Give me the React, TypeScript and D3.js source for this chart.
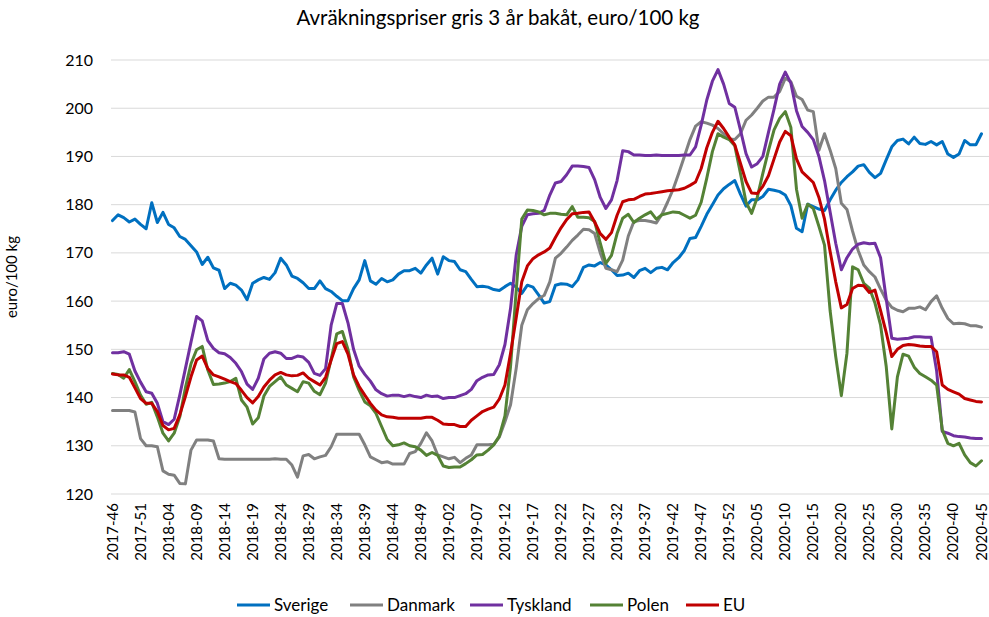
import React from "react";
import * as d3 from "d3";

const title = "Avräkningspriser gris 3 år bakåt, euro/100 kg";
const yAxisTitle = "euro/100 kg";

// Weekly categories 2017-46 ... 2020-45
const weeks: string[] = (() => {
  const out: string[] = [];
  const spans: [number, number, number][] = [
    [2017, 46, 52],
    [2018, 1, 52],
    [2019, 1, 52],
    [2020, 1, 45],
  ];
  spans.forEach(([yr, a, b]) => {
    for (let w = a; w <= b; w++) out.push(`${yr}-${w < 10 ? "0" + w : w}`);
  });
  return out;
})();
const tickLabels = weeks.filter((_, i) => i % 5 === 0);

const yTicks = [120, 130, 140, 150, 160, 170, 180, 190, 200, 210];

const sverige = [
  176.7, 177.9, 177.3, 176.4, 177.0, 175.9, 175.0, 180.4, 176.3, 178.4,
  175.9, 175.2, 173.4, 172.8, 171.5, 170.2, 167.6, 169.1, 166.9, 166.4,
  162.6, 163.7, 163.3, 162.3, 160.3, 163.7, 164.4, 164.9, 164.5, 165.9,
  168.9, 167.5, 165.2, 164.7, 163.8, 162.6, 162.6, 164.2, 162.6, 162.0,
  161.0, 160.1, 160.1, 162.6, 164.4, 168.4, 164.2, 163.5, 164.7, 164.0,
  164.4, 165.6, 166.3, 166.3, 166.8, 165.8, 167.5, 168.9, 165.6, 169.2,
  168.4, 168.2, 166.5, 166.1, 164.5, 163.0, 163.1, 162.9, 162.4, 162.2,
  163.0, 163.7, 162.9, 161.6, 163.3, 162.9, 161.3, 159.6, 159.9, 163.3,
  163.6, 163.5, 163.0, 164.4, 167.0, 167.5, 167.3, 168.0, 167.5, 166.5,
  165.3, 165.4, 165.8, 164.9, 166.3, 166.8, 165.9, 166.8, 167.0, 166.5,
  168.0, 169.0, 170.5, 173.0, 173.2, 175.5, 178.0, 180.0, 182.0, 183.3,
  184.2, 185.0, 182.2, 179.7, 181.0, 181.0, 181.7, 183.2, 183.0, 182.7,
  182.0, 179.8, 175.1, 174.4, 180.1, 179.6, 179.1, 178.8, 181.0, 183.0,
  184.6, 185.8, 186.8, 188.0, 188.3, 186.7, 185.6, 186.5, 189.3, 192.0,
  193.3, 193.6, 192.6, 194.0, 192.7, 192.5, 193.1, 192.4, 193.1, 190.5,
  189.8, 190.5, 193.3, 192.4, 192.4, 194.7,
];

const danmark = [
  137.3, 137.3, 137.3, 137.3, 137.0, 131.5, 130.0, 130.0, 129.8, 124.8,
  124.1, 123.9, 122.2, 122.1, 129.1, 131.2, 131.2, 131.2, 131.0, 127.3,
  127.2, 127.2, 127.2, 127.2, 127.2, 127.2, 127.2, 127.2, 127.2, 127.3,
  127.2, 127.2, 126.0, 123.5, 127.9, 128.2, 127.3, 127.7, 128.0, 129.8,
  132.4, 132.4, 132.4, 132.4, 132.4, 130.2, 127.7, 127.1, 126.5, 126.7,
  126.2, 126.2, 126.2, 128.4, 128.8, 130.5, 132.7, 131.0, 128.1, 127.7,
  127.3, 127.6, 126.5, 127.4, 128.1, 130.2, 130.2, 130.2, 130.3, 131.8,
  135.0, 138.5, 146.0, 155.0, 158.2, 159.5, 160.5, 161.2, 164.0, 168.9,
  169.9, 171.2, 172.6, 173.7, 174.9, 174.8, 174.0, 170.0, 166.8, 166.5,
  166.1, 168.5, 173.5, 176.5, 176.7, 176.7, 176.5, 176.2, 178.0, 180.5,
  183.2, 186.5, 190.0, 193.5, 196.3, 197.2, 196.9, 196.5, 195.8, 194.7,
  193.6, 193.5, 194.7, 197.5, 198.6, 200.0, 201.5, 202.3, 202.3, 203.5,
  206.2, 205.5, 202.5, 201.8, 199.6, 199.3, 191.3, 194.7, 191.3, 187.5,
  180.3, 179.0, 174.5, 170.5, 167.5, 166.1, 165.0, 162.5, 160.2, 158.7,
  158.1, 157.8, 158.5, 158.5, 158.8, 158.2, 159.9, 161.1, 158.5, 156.4,
  155.3, 155.4, 155.3, 154.9, 154.9, 154.6,
];

const tyskland = [
  149.3, 149.3, 149.5, 149.0, 145.5, 143.2, 141.2, 140.9, 138.8, 135.0,
  134.4, 135.5, 140.5, 146.0, 151.5, 156.8, 155.9, 151.8, 150.2, 149.3,
  149.1, 148.3, 147.1, 145.4, 142.8, 141.7, 144.0, 148.0, 149.2, 149.5,
  149.2, 148.1, 148.1, 148.6, 148.4, 147.3, 145.0, 144.6, 146.0, 155.0,
  159.5, 159.5, 155.5, 150.0, 146.5, 144.8, 143.4, 141.6, 140.8, 140.3,
  140.5, 140.5, 140.2, 140.5, 140.2, 140.0, 140.5, 140.2, 140.3, 139.8,
  140.0, 140.0, 140.4, 140.8, 141.7, 143.5, 144.2, 144.7, 144.8, 146.8,
  151.0, 158.5, 169.5, 175.5, 177.9, 178.1, 178.2, 178.8, 182.0, 184.5,
  184.8, 186.2, 188.0, 188.0, 187.9, 187.7, 185.2, 181.5, 179.2, 181.0,
  185.0, 191.2, 191.0, 190.3, 190.3, 190.2, 190.2, 190.3, 190.2, 190.2,
  190.2, 190.2, 190.3, 190.3, 192.0, 196.5, 201.7, 205.6, 208.0, 205.0,
  201.0, 200.2, 195.5, 190.6, 187.8, 188.5, 190.0, 195.0, 199.8, 205.0,
  207.5, 205.2, 199.5, 196.2, 195.0, 193.5, 190.0, 185.0, 178.5, 172.0,
  166.5, 169.0, 170.8, 171.8, 172.1, 171.9, 172.0, 169.0, 160.5, 152.3,
  152.1, 152.2, 152.3, 152.6, 152.6, 152.5, 152.5, 145.5, 133.0, 132.6,
  132.1, 131.9, 131.8, 131.6, 131.5, 131.5,
];

const polen = [
  145.0, 144.8, 144.0, 145.8, 143.3, 140.5, 138.6, 139.0, 136.0, 132.6,
  131.0, 132.6, 136.0, 142.0, 147.0, 149.9, 150.6, 145.7, 142.7, 142.8,
  143.0, 143.3, 144.0, 139.5, 138.0, 134.5, 135.8, 140.3, 142.3, 143.3,
  144.3, 142.6, 141.9, 141.2, 143.3, 143.0, 141.3, 140.6, 143.0, 148.0,
  153.2, 153.7, 150.0, 144.3, 141.5, 139.1, 138.3, 136.7, 134.0, 131.3,
  130.0, 130.2, 130.6, 130.0, 129.8, 129.1, 128.0, 128.6, 128.0, 125.8,
  125.5, 125.6, 125.6, 126.3, 127.1, 128.1, 128.2, 129.1, 130.2, 132.0,
  136.2, 146.5, 162.0, 177.0, 178.9, 178.8, 178.5, 177.9, 178.2, 178.2,
  178.0, 177.9, 179.6, 177.4, 177.4, 177.3, 176.5, 172.0, 167.8, 169.5,
  174.0, 177.2, 178.0, 176.3, 177.2, 177.9, 178.5, 177.0, 177.9, 178.2,
  178.5, 178.4, 177.8, 177.2, 177.8, 180.5, 185.5, 191.0, 194.7, 194.0,
  193.5, 192.2, 186.5, 180.5, 178.2, 181.5, 186.5, 191.2, 195.5, 197.9,
  199.3, 196.0, 183.2, 177.2, 180.1, 179.2, 175.5, 171.6, 158.0, 148.5,
  140.4, 149.2, 167.1, 166.5, 163.7, 162.7, 159.6, 155.0, 146.5, 133.5,
  144.3, 149.0, 148.6, 146.3, 145.0, 144.3, 143.6, 142.6, 133.3, 130.5,
  130.0, 130.5, 128.1, 126.5, 125.8, 126.9,
];

const eu = [
  144.9, 144.7, 144.7, 144.2, 142.0, 139.8, 138.8, 138.8, 137.1, 134.2,
  133.3, 133.6, 136.4, 140.2, 144.3, 147.8, 148.6, 146.0, 144.7, 144.3,
  143.8, 143.3, 142.9, 141.5, 140.0, 138.9, 140.2, 142.2, 143.6, 144.7,
  145.2, 144.7, 144.5, 144.6, 145.1, 144.0, 143.3, 142.6, 144.2, 147.8,
  151.2, 151.6, 149.0, 144.7, 142.3, 140.5, 138.8, 137.4, 136.4, 136.0,
  135.9, 135.7, 135.7, 135.7, 135.7, 135.7, 135.9, 135.9, 135.3, 134.5,
  134.4, 134.4, 134.0, 134.0, 135.3, 136.2, 137.1, 137.6, 138.0, 139.7,
  142.6, 149.2, 156.5, 164.0, 167.3, 168.8, 169.6, 170.2, 171.0, 173.2,
  175.2, 176.9, 178.1, 178.2, 178.4, 178.5, 176.4, 174.0, 172.8, 174.2,
  177.8, 180.6, 181.0, 181.1, 181.7, 182.2, 182.3, 182.5, 182.7, 182.9,
  183.0, 183.1, 183.4, 184.0, 184.7, 187.5, 191.8, 195.0, 197.3, 195.8,
  194.0, 192.4, 188.6, 184.8, 182.4, 182.3, 183.8, 186.0, 189.5, 193.0,
  195.2, 194.3, 189.5, 186.8, 185.7, 184.6, 181.5, 177.0, 170.3, 164.0,
  158.6, 159.3, 162.6, 163.3, 163.2, 161.8, 162.3, 158.0, 153.5, 148.5,
  150.0, 150.8, 151.0, 150.9, 150.7, 150.6, 150.6, 149.5, 142.6, 141.7,
  141.2, 140.7, 139.8, 139.5, 139.2, 139.1,
];

const seriesNames = ["Sverige", "Danmark", "Tyskland", "Polen", "EU"];
const seriesValues = [sverige, danmark, tyskland, polen, eu];
const seriesColors = ["#0070C0", "#808080", "#7030A0", "#548235", "#C00000"];

const FONT = "Lato, 'Open Sans', 'DejaVu Sans', sans-serif";

export default function App() {
  const W = 989;
  const H = 617;
  const x = d3.scalePoint<string>().domain(weeks).range([112.5, 981.5]);
  const y = d3.scaleLinear().domain([120, 210]).range([494, 60]);
  const gridX0 = 111;
  const gridX1 = 989;

  const lineGen = (vals: number[]) =>
    d3
      .line<number>()
      .x((_, i) => x(weeks[i]) as number)
      .y((d) => y(d))(vals) || "";

  const legendX = [237, 350, 470, 590, 686];
  const legendY = 605;

  return (
    <svg
      width={W}
      height={H}
      viewBox={`0 0 ${W} ${H}`}
      style={{ position: "absolute", left: 0, top: 0, background: "#fff", display: "block" }}
      fontFamily={FONT}
    >
      <rect x={0} y={0} width={W} height={H} fill="#fff" />
      <text x={498} y={25} textAnchor="middle" fontSize={20.5} fill="#000">
        {title}
      </text>

      {yTicks.map((t) => (
        <g key={t}>
          <line x1={gridX0} x2={gridX1} y1={y(t)} y2={y(t)} stroke="#d9d9d9" strokeWidth={1} />
          <text x={93} y={y(t)} dy="0.35em" textAnchor="end" fontSize={16} fill="#000">
            {t}
          </text>
        </g>
      ))}

      <text
        transform={`translate(17,${y(165)}) rotate(-90)`}
        textAnchor="middle"
        fontSize={15}
        fill="#000"
      >
        {yAxisTitle}
      </text>

      {tickLabels.map((lab) => (
        <text
          key={lab}
          transform={`translate(${(x(lab) as number) + 5},503) rotate(-90)`}
          textAnchor="end"
          fontSize={15}
          fill="#000"
        >
          {lab}
        </text>
      ))}

      {seriesValues.map((vals, k) => (
        <path
          key={seriesNames[k]}
          d={lineGen(vals)}
          fill="none"
          stroke={seriesColors[k]}
          strokeWidth={3}
          strokeLinejoin="round"
          strokeLinecap="round"
        />
      ))}

      {seriesNames.map((name, k) => (
        <g key={name}>
          <line
            x1={legendX[k]}
            x2={legendX[k] + 33}
            y1={legendY}
            y2={legendY}
            stroke={seriesColors[k]}
            strokeWidth={3}
          />
          <text x={legendX[k] + 37} y={legendY} dy="0.35em" fontSize={17} fill="#000">
            {name}
          </text>
        </g>
      ))}
    </svg>
  );
}
